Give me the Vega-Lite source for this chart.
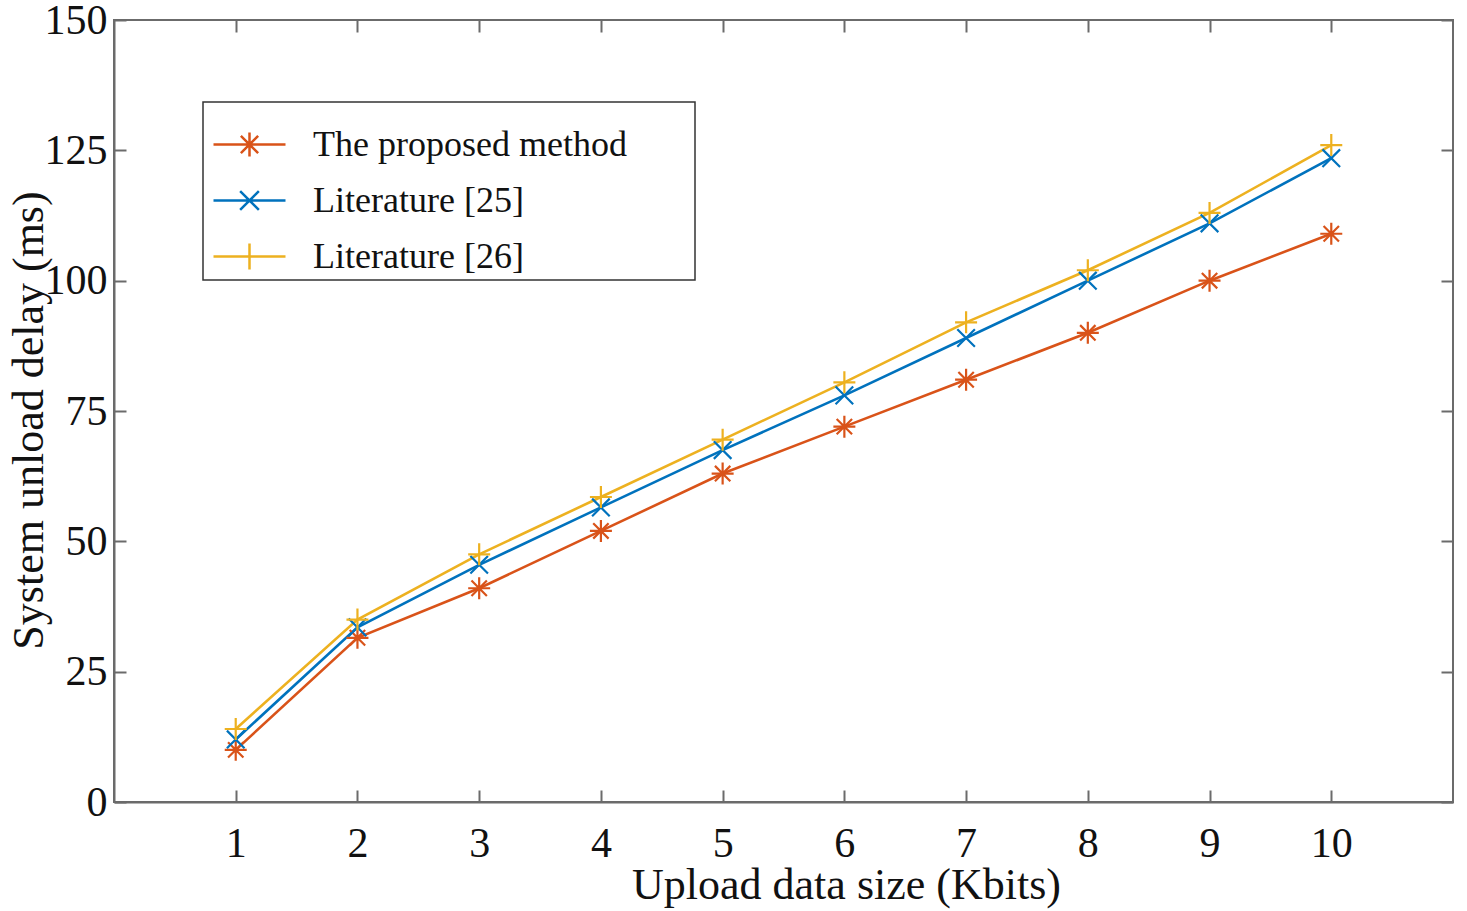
{
  "$schema": "https://vega.github.io/schema/vega-lite/v6.json",
  "autosize": {"type": "none"},
  "width": 1339,
  "height": 782,
  "padding": {"left": 114, "top": 20, "right": 14, "bottom": 109},
  "background": "white",
  "config": {
    "view": {"stroke": "#6b6b6b", "strokeWidth": 2},
    "font": "Liberation Serif",
    "axis": {
      "labelFont": "Liberation Serif",
      "titleFont": "Liberation Serif",
      "labelFontSize": 42,
      "titleFontSize": 44,
      "labelColor": "#111",
      "titleColor": "#111",
      "titleFontWeight": "normal",
      "domainColor": "#6b6b6b",
      "domainWidth": 2,
      "tickColor": "#6b6b6b",
      "tickWidth": 2,
      "grid": false
    }
  },
  "data": {
    "values": [
      {"size": 1, "delay": 10, "series": "The proposed method"},
      {"size": 2, "delay": 31.5, "series": "The proposed method"},
      {"size": 3, "delay": 41, "series": "The proposed method"},
      {"size": 4, "delay": 52, "series": "The proposed method"},
      {"size": 5, "delay": 63, "series": "The proposed method"},
      {"size": 6, "delay": 72, "series": "The proposed method"},
      {"size": 7, "delay": 81, "series": "The proposed method"},
      {"size": 8, "delay": 90, "series": "The proposed method"},
      {"size": 9, "delay": 100, "series": "The proposed method"},
      {"size": 10, "delay": 109, "series": "The proposed method"},
      {"size": 1, "delay": 12, "series": "Literature [25]"},
      {"size": 2, "delay": 33.5, "series": "Literature [25]"},
      {"size": 3, "delay": 45.5, "series": "Literature [25]"},
      {"size": 4, "delay": 56.5, "series": "Literature [25]"},
      {"size": 5, "delay": 67.5, "series": "Literature [25]"},
      {"size": 6, "delay": 78, "series": "Literature [25]"},
      {"size": 7, "delay": 89, "series": "Literature [25]"},
      {"size": 8, "delay": 100, "series": "Literature [25]"},
      {"size": 9, "delay": 111, "series": "Literature [25]"},
      {"size": 10, "delay": 123.5, "series": "Literature [25]"},
      {"size": 1, "delay": 14, "series": "Literature [26]"},
      {"size": 2, "delay": 35, "series": "Literature [26]"},
      {"size": 3, "delay": 47.5, "series": "Literature [26]"},
      {"size": 4, "delay": 58.5, "series": "Literature [26]"},
      {"size": 5, "delay": 69.5, "series": "Literature [26]"},
      {"size": 6, "delay": 80.5, "series": "Literature [26]"},
      {"size": 7, "delay": 92, "series": "Literature [26]"},
      {"size": 8, "delay": 102, "series": "Literature [26]"},
      {"size": 9, "delay": 113, "series": "Literature [26]"},
      {"size": 10, "delay": 126, "series": "Literature [26]"}
    ]
  },
  "resolve": {"axis": {"x": "independent", "y": "independent"}},
  "layer": [
    {
      "mark": {"type": "line", "strokeWidth": 2.6},
      "encoding": {
        "x": {
          "field": "size", "type": "quantitative",
          "scale": {"domain": [0, 11], "nice": false, "zero": false},
          "axis": {
            "orient": "bottom",
            "title": "Upload data size (Kbits)",
            "values": [1, 2, 3, 4, 5, 6, 7, 8, 9, 10],
            "tickSize": -12,
            "labelPadding": 33,
            "titleX": 732,
            "titleY": 96,
            "titleBaseline": "alphabetic"
          }
        },
        "y": {
          "field": "delay", "type": "quantitative",
          "scale": {"domain": [0, 150], "nice": false},
          "axis": {
            "orient": "left",
            "title": "System unload delay (ms)",
            "values": [0, 25, 50, 75, 100, 125, 150],
            "tickSize": -12,
            "labelPadding": 19,
            "titleX": -85,
            "titleY": 400,
            "titleAngle": -90,
            "titleBaseline": "middle",
            "titleAlign": "center"
          }
        },
        "color": {
          "field": "series", "type": "nominal",
          "scale": {
            "domain": ["The proposed method", "Literature [25]", "Literature [26]"],
            "range": ["#D95319", "#0072BD", "#EDB120"]
          },
          "legend": {
            "title": null,
            "orient": "none",
            "legendX": 89,
            "legendY": 82,
            "strokeColor": "#333",
            "fillColor": "white",
            "padding": 5,
            "labelFont": "Liberation Serif",
            "labelFontSize": 36,
            "labelColor": "#111",
            "labelOffset": 26,
            "symbolOffset": 4,
            "labelExpr": "datum.label + '\u00a0\u00a0\u00a0\u00a0\u00a0\u00a0\u00a0\u200b'",
            "symbolSize": 5184,
            "symbolStrokeWidth": 2.5,
            "rowPadding": -20,
            "labelLimit": 600,
            "encode": {
              "legend": {"update": {"strokeWidth": {"value": 1.5}}},
              "symbols": {
                "update": {
                  "shape": {"signal": "datum.value === 'The proposed method' ? 'M-1,0H1M0,-0.33V0.33M-0.24,-0.24L0.24,0.24M-0.24,0.24L0.24,-0.24' : datum.value === 'Literature [25]' ? 'M-1,0H1M-0.26,-0.26L0.26,0.26M-0.26,0.26L0.26,-0.26' : 'M-1,0H1M0,-0.36V0.36'"},
                  "fill": {"value": "transparent"}
                }
              }
            }
          }
        }
      }
    },
    {
      "transform": [{"filter": "datum.series === 'The proposed method'"}],
      "mark": {"type": "point", "filled": false, "size": 484, "strokeWidth": 2.2, "opacity": 1, "shape": "M-1,0H1M0,-1V1M-0.7,-0.7L0.7,0.7M-0.7,0.7L0.7,-0.7"},
      "encoding": {
        "x": {
          "field": "size", "type": "quantitative",
          "axis": {
            "orient": "top",
            "title": null,
            "labels": false,
            "domain": false,
            "values": [1, 2, 3, 4, 5, 6, 7, 8, 9, 10],
            "tickSize": -12
          }
        },
        "y": {
          "field": "delay", "type": "quantitative",
          "axis": {
            "orient": "right",
            "title": null,
            "labels": false,
            "domain": false,
            "values": [0, 25, 50, 75, 100, 125, 150],
            "tickSize": -12
          }
        },
        "color": {"field": "series", "type": "nominal", "legend": null}
      }
    },
    {
      "transform": [{"filter": "datum.series === 'Literature [25]'"}],
      "mark": {"type": "point", "filled": false, "size": 484, "strokeWidth": 2.2, "opacity": 1, "shape": "M-0.8,-0.8L0.8,0.8M-0.8,0.8L0.8,-0.8"},
      "encoding": {
        "x": {"field": "size", "type": "quantitative", "axis": null},
        "y": {"field": "delay", "type": "quantitative", "axis": null},
        "color": {"field": "series", "type": "nominal", "legend": null}
      }
    },
    {
      "transform": [{"filter": "datum.series === 'Literature [26]'"}],
      "mark": {"type": "point", "filled": false, "size": 484, "strokeWidth": 2.2, "opacity": 1, "shape": "M-1,0H1M0,-1V1"},
      "encoding": {
        "x": {"field": "size", "type": "quantitative", "axis": null},
        "y": {"field": "delay", "type": "quantitative", "axis": null},
        "color": {"field": "series", "type": "nominal", "legend": null}
      }
    }
  ]
}
